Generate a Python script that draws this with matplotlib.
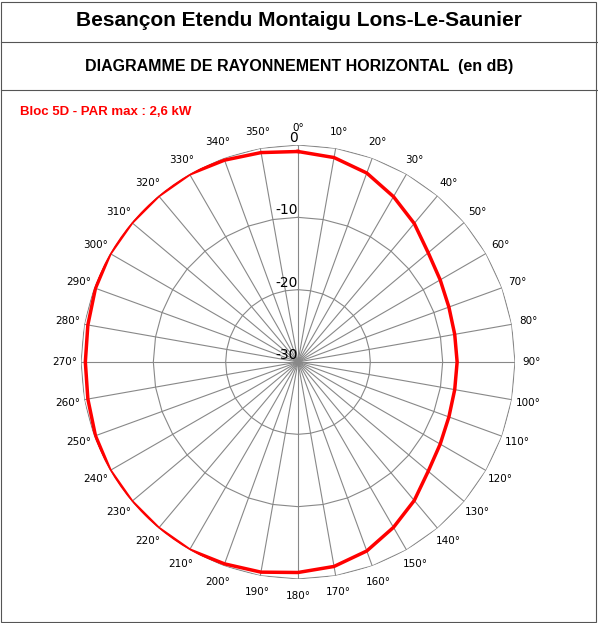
import numpy as np
import matplotlib
matplotlib.use("Agg")
import matplotlib.pyplot as plt

angles_deg = list(range(0, 360, 10))
values_db = [-0.9, -1.3, -2.2, -3.6, -5, -6.5, -7.3, -7.8, -8, -8, -8, -7.8, -7.3, -6.5, -5, -3.6, -2.2, -1.3,
             -0.9, -0.5, -0.3, 0, 0, 0, 0, -0.2, -0.5, -0.6, -0.5, -0.2, 0, 0, 0, 0, -0.3, -0.6]
r_ticks = [-30, -20, -10, 0]
title = "Besançon Etendu Montaigu Lons-Le-Saunier"
subtitle = "DIAGRAMME DE RAYONNEMENT HORIZONTAL  (en dB)"
label = "Bloc 5D - PAR max : 2,6 kW"

W, H = 598, 623
fig = plt.figure(figsize=(W/100, H/100), dpi=100)
cx, cy, R = 298, 362, 217
ax = fig.add_axes([(cx-R)/W, (H-cy-R)/H, 2*R/W, 2*R/H], projection='polar')
ax.set_theta_zero_location('N')
ax.set_theta_direction(-1)
ax.set_ylim(-30, 0)
ax.grid(False)
ax.set_xticks([]); ax.set_yticks([])
ax.spines['polar'].set_visible(False)
ax.patch.set_alpha(0)

th = np.deg2rad(angles_deg + [angles_deg[0]])
for rt in r_ticks[1:]:
    ax.plot(th, [rt]*len(th), color='#888888', lw=0.8, zorder=1)
for a in angles_deg:
    ax.plot([np.deg2rad(a)]*2, [-30, 0], color='#888888', lw=0.8, zorder=1)
    ax.text(np.deg2rad(a), 2.3, f"{a}°", ha='center', va='center', fontsize=7.5, clip_on=False)
for rt in r_ticks:
    ax.text(np.deg2rad(0), rt, str(rt), ha='right', va='bottom', fontsize=10, clip_on=False)
vals = values_db + [values_db[0]]
ax.plot(th, vals, color='#ff0000', lw=2.5, zorder=3)

def hline(y):
    fig.add_artist(plt.Line2D([1/W, 1-1/W], [1-y/H]*2, color='#555555', lw=0.8))
fig.add_artist(plt.Rectangle((1/W, 1/H), 1-3/W, 1-3/H, fill=False, ec='#555555', lw=0.8))
hline(42); hline(90)
fig.text(0.5, 1-20/H, title, ha='center', va='center', fontsize=15, fontweight='bold', family='Liberation Sans')
fig.text(0.5, 1-67/H, subtitle, ha='center', va='center', fontsize=11.5, fontweight='bold', family='Liberation Sans')
fig.text(20/W, 1-112/H, label, ha='left', va='center', fontsize=9.5, fontweight='bold', color='#ff0000', family='Liberation Sans')
fig.savefig("out.png", dpi=100)
